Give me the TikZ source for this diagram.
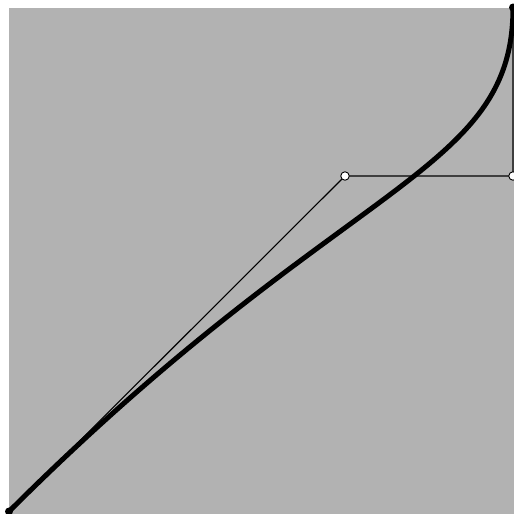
\documentclass[tikz,border=0pt]{standalone}
\begin{document}
\begin{tikzpicture}[x=1pt,y=-1pt,
  ctrl/.style={circle,draw=black,fill=white,line width=0.9pt,inner sep=0pt,minimum size=8.5pt},
  endpt/.style={circle,fill=black,inner sep=0pt,minimum size=8pt},
  poly/.style={line width=1.1pt},
  curve/.style={line width=5pt}]
\useasboundingbox (0,0) rectangle (514,514);
\fill[black!30] (9,8) rectangle (514,514);
\coordinate (p0) at (9,511.5);
\coordinate (p1) at (345,176);
\coordinate (p2) at (513,176);
\coordinate (p3) at (513,7.5);
\draw[poly] (p0) -- (p1) -- (p2) -- (p3);
\draw[curve] (p0) .. controls (p1) and (p2) .. (p3);
\node[endpt] (e0) at (p0) {};
\node[endpt] (e3) at (p3) {};
\node[ctrl] (c1) at (p1) {};
\node[ctrl] (c2) at (p2) {};
\end{tikzpicture}
\end{document}
